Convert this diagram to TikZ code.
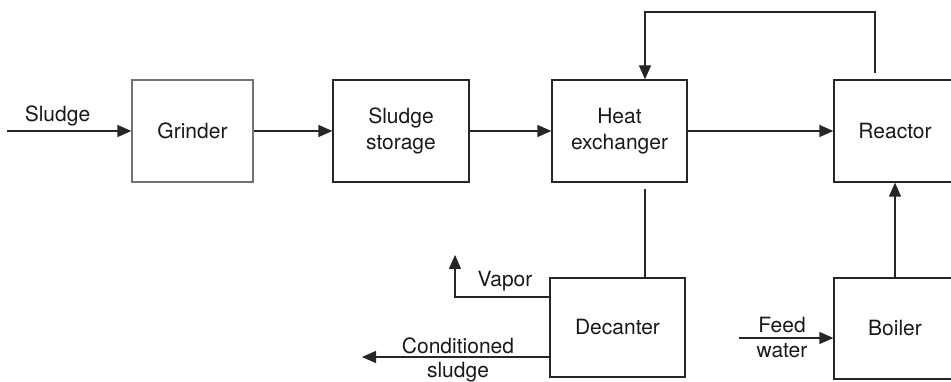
\documentclass[tikz,border=0pt]{standalone}
\usepackage{fontspec}
\setmainfont{TeX Gyre Heros}
\usetikzlibrary{arrows.meta}
\begin{document}
\begin{tikzpicture}[x=1pt,y=-1pt,
  every node/.style={font=\fontsize{21}{26}\selectfont, text=black!90},
  unit/.style={draw=black!85, line width=1.3pt, inner sep=0pt, align=center},
  flow/.style={draw=black!85, line width=1.3pt},
  arr/.style={flow, -{Triangle[length=14pt,width=12pt]}},
  lbl/.style={anchor=base, inner sep=0pt}]
\useasboundingbox (0,0) rectangle (951,382);
\clip (0,0) rectangle (951,382);

% process units
\node[unit, draw=black!55, minimum width=121, minimum height=102] (grinder) at (192.5,131) {Grinder};
\node[unit, minimum width=136, minimum height=102] (storage) at (401,131) {Sludge\\storage};
\node[unit, minimum width=135, minimum height=102] (hx) at (619.5,131) {Heat\\exchanger};
\node[unit, minimum width=122, minimum height=102] (reactor) at (895,131) {Reactor};
\node[unit, minimum width=135, minimum height=99] (dec) at (617.5,327.5) {Decanter};
\node[unit, minimum width=122, minimum height=101] (boiler) at (895,328.5) {Boiler};

% free ends of the streams
\coordinate (sin) at (7,131);
\coordinate (rout) at (875,73);
\coordinate (fb) at (645,12);
\coordinate (hxlow) at (645,189);
\coordinate (vap) at (455,255);
\coordinate (cs) at (362,357);
\coordinate (fw) at (739,338);

% main line
\draw[arr] (sin) -- (grinder);
\draw[arr] (grinder) -- (storage);
\draw[arr] (storage) -- (hx);
\draw[arr] (hx) -- (reactor);

% recycle from reactor back to the heat exchanger
\draw[arr] (rout) |- (fb) -- (fb |- hx.north);

% heat exchanger to decanter
\draw[flow] (hxlow) -- (hxlow |- dec.north);

% decanter outlets
\draw[arr] (dec.west |- 0,297) -| (vap);
\draw[arr] (dec.west |- 0,357) -- (cs);

% boiler
\draw[arr] (fw) -- (fw -| boiler.west);
\draw[arr] (boiler) -- (reactor);

% stream labels
\node[lbl] (lsludge) at (57.5,122) {Sludge};
\node[lbl] (lvapor) at (505,287) {Vapor};
\node[lbl] (lcond) at (458,353) {Conditioned};
\node[lbl] (lcond2) at (458,377) {sludge};
\node[lbl] (lfeed) at (782,332) {Feed};
\node[lbl] (lwater) at (782,357) {water};
\end{tikzpicture}
\end{document}
